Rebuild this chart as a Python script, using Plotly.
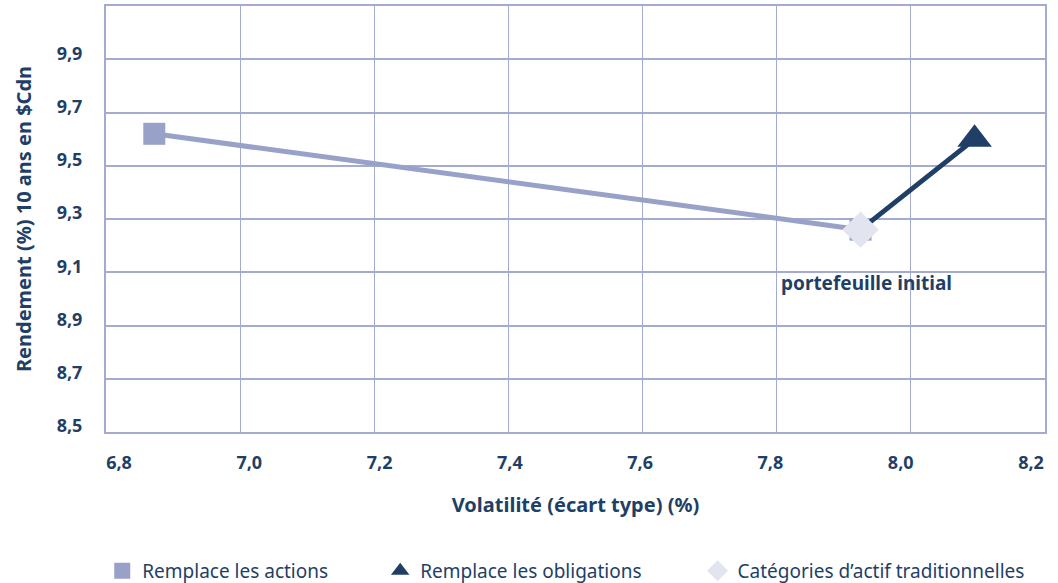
import plotly.graph_objects as go

# Data
actions_x = [6.872, 7.925]
actions_y = [9.62, 9.26]
oblig_x = [7.925, 8.095]
oblig_y = [9.26, 9.60]
initial_x = [7.925]
initial_y = [9.26]
x_ticks = [6.8, 7.0, 7.2, 7.4, 7.6, 7.8, 8.0, 8.2]
y_ticks = [8.5, 8.7, 8.9, 9.1, 9.3, 9.5, 9.7, 9.9]

LIGHT = "#98a2c8"
DARK = "#1f3f66"
PALE = "#e2e4ef"
GRID = "#a3abd0"
FONT = "Noto Sans"

fig = go.Figure()
fig.add_trace(go.Scatter(x=actions_x, y=actions_y, mode="lines+markers",
                         line=dict(color=LIGHT, width=5),
                         marker=dict(symbol="square", size=22, color=LIGHT, opacity=1),
                         showlegend=False, hoverinfo="skip"))
fig.add_trace(go.Scatter(x=oblig_x, y=oblig_y, mode="lines",
                         line=dict(color=DARK, width=5),
                         showlegend=False, hoverinfo="skip"))
fig.add_trace(go.Scatter(x=oblig_x[1:], y=oblig_y[1:], mode="markers",
                         marker=dict(symbol="triangle-up", size=30, color=DARK, opacity=1),
                         showlegend=False, hoverinfo="skip"))
fig.add_trace(go.Scatter(x=initial_x, y=initial_y, mode="markers",
                         marker=dict(symbol="diamond", size=28, color=PALE, opacity=1),
                         showlegend=False, hoverinfo="skip"))
# legend entries, each in its own legend for placement
legend_defs = [("Remplace les actions", "square", LIGHT, "legend", -0.004),
               ("Remplace les obligations", "triangle-up", DARK, "legend2", 0.292),
               ("Catégories d’actif traditionnelles", "diamond", PALE, "legend3", 0.630)]
for name, sym, col, lg, _ in legend_defs:
    fig.add_trace(go.Scatter(x=[None], y=[None], mode="markers", name=name, legend=lg,
                             marker=dict(symbol=sym, size=24, color=col)))
# invisible trace so the label-only overlay axis is drawn
fig.add_trace(go.Scatter(x=[None], y=[None], xaxis="x2", yaxis="y", showlegend=False,
                         hoverinfo="skip"))

fig.add_annotation(x=initial_x[0], y=initial_y[0], text="<b>portefeuille initial</b>",
                   showarrow=False, xanchor="center", yanchor="top", yshift=-38, xshift=6,
                   font=dict(family=FONT, size=19, color=DARK))

leg_common = dict(orientation="h", xanchor="left", y=-0.326, yanchor="middle",
                  font=dict(family=FONT, size=19, color=DARK), itemsizing="trace",
                  bgcolor="rgba(0,0,0,0)", itemwidth=30)
tick_text_x = [f"<b>{v:.1f}</b>".replace(".", ",") for v in x_ticks]
fig.update_layout(
    width=1058, height=583,
    margin=dict(l=106, r=13, t=6, b=151, autoexpand=False),
    paper_bgcolor="white", plot_bgcolor="white",
    font=dict(family=FONT, color=DARK),
    legend=dict(x=legend_defs[0][4], **leg_common),
    legend2=dict(x=legend_defs[1][4], **leg_common),
    legend3=dict(x=legend_defs[2][4], **leg_common),
    xaxis=dict(range=[6.8, 8.2], tickvals=x_ticks, showticklabels=False,
               showgrid=True, gridcolor=GRID, gridwidth=1,
               showline=True, linecolor=GRID, linewidth=2, mirror=True,
               zeroline=False, ticks="", automargin=False,
               title=dict(text="<b>Volatilité (écart type) (%)</b>", standoff=65,
                          font=dict(family=FONT, size=20, color=DARK))),
    # label-only overlay axis: labels are spread slightly narrower than the grid
    xaxis2=dict(range=[6.78005, 8.22149], tickvals=x_ticks, ticktext=tick_text_x,
                overlaying="x", side="bottom", anchor="y", showgrid=False, showline=False,
                zeroline=False, ticks="", ticklabelstandoff=18, automargin=False,
                ticklabeloverflow="allow", fixedrange=True,
                tickfont=dict(family=FONT, size=18, color=DARK)),
    yaxis=dict(range=[8.5, 10.1], tickvals=y_ticks,
               ticktext=[f"<b>{v:.1f}</b>".replace(".", ",") for v in y_ticks],
               showgrid=True, gridcolor=GRID, gridwidth=2,
               showline=True, linecolor=GRID, linewidth=2, mirror=True,
               zeroline=False, ticks="", ticklabelstandoff=18, ticklabelshift=-6,
               automargin=False,
               tickfont=dict(family=FONT, size=18, color=DARK),
               title=dict(text="<b>Rendement (%) 10 ans en $Cdn</b>", standoff=20,
                          font=dict(family=FONT, size=20, color=DARK))),
)

fig.write_html("out.html", config={"displayModeBar": False},
               post_script="document.body.style.margin='0';document.body.style.overflow='hidden';")
